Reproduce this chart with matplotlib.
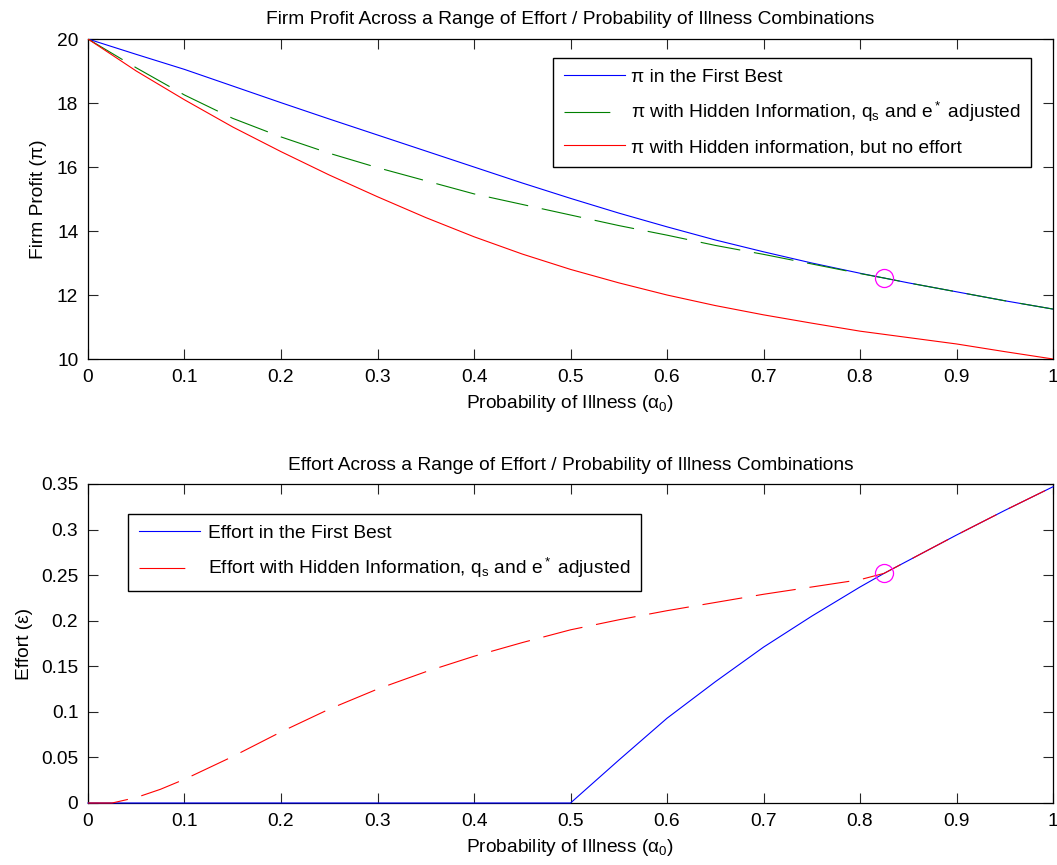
import matplotlib
matplotlib.use("Agg")
import matplotlib.pyplot as plt

plt.rcParams['font.family'] = ['Liberation Sans', 'DejaVu Sans']
plt.rcParams['mathtext.fontset'] = 'custom'
plt.rcParams['mathtext.rm'] = 'Liberation Sans'
plt.rcParams['mathtext.it'] = 'Liberation Sans:italic'
plt.rcParams['lines.scale_dashes'] = False

# Probability of illness grid and firm profit under each regime
alpha_profit = [0.0, 0.05, 0.1, 0.15, 0.2, 0.25, 0.3, 0.35, 0.4, 0.45, 0.5,
                0.55, 0.6, 0.65, 0.7, 0.75, 0.8, 0.825, 0.85, 0.9, 0.95, 1.0]
profit_first_best = [20.0, 19.52, 19.05, 18.53, 18.01, 17.5, 17.0, 16.5, 16.0, 15.5, 15.02,
                     14.56, 14.13, 13.72, 13.35, 13.0, 12.68, 12.53, 12.38, 12.10, 11.82, 11.56]
profit_hidden_info = [20.0, 19.1, 18.25, 17.52, 16.94, 16.43, 15.98, 15.57, 15.16, 14.83, 14.5,
                      14.17, 13.87, 13.55, 13.27, 12.97, 12.67, 12.53, 12.38, 12.10, 11.82, 11.56]
profit_no_effort = [20.0, 19.0, 18.1, 17.25, 16.48, 15.75, 15.07, 14.42, 13.82, 13.28, 12.8,
                    12.38, 12.0, 11.67, 11.38, 11.12, 10.87, 10.77, 10.67, 10.47, 10.23, 10.0]

# Effort chosen under each regime
alpha_effort = [0.0, 0.025, 0.05, 0.075, 0.1, 0.15, 0.2, 0.25, 0.3, 0.35, 0.4, 0.45, 0.5,
                0.55, 0.6, 0.65, 0.7, 0.75, 0.8, 0.825, 0.85, 0.9, 0.95, 1.0]
effort_first_best = [0, 0, 0, 0, 0, 0, 0, 0, 0, 0, 0, 0, 0,
                     0.047, 0.093, 0.133, 0.171, 0.205, 0.237, 0.252, 0.266, 0.294, 0.321, 0.347]
effort_hidden_info = [0, 0.0, 0.006, 0.015, 0.026, 0.051, 0.078, 0.103, 0.125, 0.144, 0.161, 0.176, 0.19,
                      0.201, 0.211, 0.22, 0.229, 0.237, 0.245, 0.252, 0.266, 0.294, 0.321, 0.347]

# point where the hidden-information contract meets the first best
switch_alpha = 0.825
switch_profit = 12.52
switch_effort = 0.252

x_ticks = [0, 0.1, 0.2, 0.3, 0.4, 0.5, 0.6, 0.7, 0.8, 0.9, 1]
x_ticklabels = ['0', '0.1', '0.2', '0.3', '0.4', '0.5', '0.6', '0.7', '0.8', '0.9', '1']
profit_ticks = [10, 12, 14, 16, 18, 20]
effort_ticks = [0, 0.05, 0.1, 0.15, 0.2, 0.25, 0.3, 0.35]
effort_ticklabels = ['0', '0.05', '0.1', '0.15', '0.2', '0.25', '0.3', '0.35']

FS = 13.8
DASH = (29, 10)

fig = plt.figure(figsize=(10.57, 8.65), dpi=100)
ax1 = fig.add_axes([0.08325, 0.58497, 0.9130, 0.36994])
ax2 = fig.add_axes([0.08325, 0.07168, 0.9130, 0.36879])


def style_axes(ax):
    ax.tick_params(direction='in', top=True, right=True, length=7, width=0.8,
                   labelsize=FS, pad=7, color='#262626')
    for sp in ax.spines.values():
        sp.set_linewidth(0.9)
    ax.set_xlim(0, 1)
    ax.set_xticks(x_ticks)
    ax.set_xticklabels(x_ticklabels)
    ax.set_xlabel(r'Probability of Illness (α$_0$)', fontsize=FS, labelpad=5)


def dash_legend_handle(leg, idx):
    # show one long dash in the legend swatch, like the plotted line
    leg.get_lines()[idx].set_dashes((33, 20))


# Top panel: firm profit
ax1.plot(alpha_profit, profit_first_best, color='blue', lw=0.8,
         label=r'π in the First Best', zorder=3)
ax1.plot(alpha_profit, profit_hidden_info, color='#008000', lw=0.8, linestyle='--', dashes=DASH,
         label=r'π with Hidden Information, q$_\mathrm{s}$ and e$^*$ adjusted', zorder=3)
ax1.plot(alpha_profit, profit_no_effort, color='red', lw=0.8,
         label=r'π with Hidden information, but no effort', zorder=3)
ax1.plot([switch_alpha], [switch_profit], 'o', mfc='none', mec='magenta', ms=13, mew=0.9, zorder=4)
ax1.set_ylim(10, 20)
ax1.set_yticks(profit_ticks)
ax1.set_ylabel(r'Firm Profit (π)', fontsize=FS, labelpad=7)
ax1.set_title('Firm Profit Across a Range of Effort / Probability of Illness Combinations',
              fontsize=FS, pad=11)
style_axes(ax1)
leg1 = ax1.legend(loc='upper left', bbox_to_anchor=(0.482, 0.941), fontsize=FS, frameon=True,
                  fancybox=False, edgecolor='black', framealpha=1, borderaxespad=0,
                  handlelength=3.2, handletextpad=0.3, labelspacing=0.75, borderpad=0.55)
dash_legend_handle(leg1, 1)

# Bottom panel: effort
ax2.plot(alpha_effort, effort_first_best, color='blue', lw=0.8,
         label='Effort in the First Best', zorder=3, clip_on=False)
ax2.plot(alpha_effort, effort_hidden_info, color='red', lw=0.8, linestyle='--', dashes=DASH,
         label=r'Effort with Hidden Information, q$_\mathrm{s}$ and e$^*$ adjusted', zorder=3, clip_on=False)
ax2.plot([switch_alpha], [switch_effort], 'o', mfc='none', mec='magenta', ms=13, mew=0.9, zorder=4)
ax2.set_ylim(0, 0.35)
ax2.set_yticks(effort_ticks)
ax2.set_yticklabels(effort_ticklabels)
ax2.set_ylabel('Effort (ε)', fontsize=FS, labelpad=6)
ax2.set_title('Effort Across a Range of Effort / Probability of Illness Combinations',
              fontsize=FS, pad=10)
style_axes(ax2)
leg2 = ax2.legend(loc='upper left', bbox_to_anchor=(0.0415, 0.906), fontsize=FS, frameon=True,
                  fancybox=False, edgecolor='black', framealpha=1, borderaxespad=0,
                  handlelength=3.2, handletextpad=0.4, labelspacing=0.75, borderpad=0.55)
dash_legend_handle(leg2, 1)

plt.savefig('out.png', dpi=100)
